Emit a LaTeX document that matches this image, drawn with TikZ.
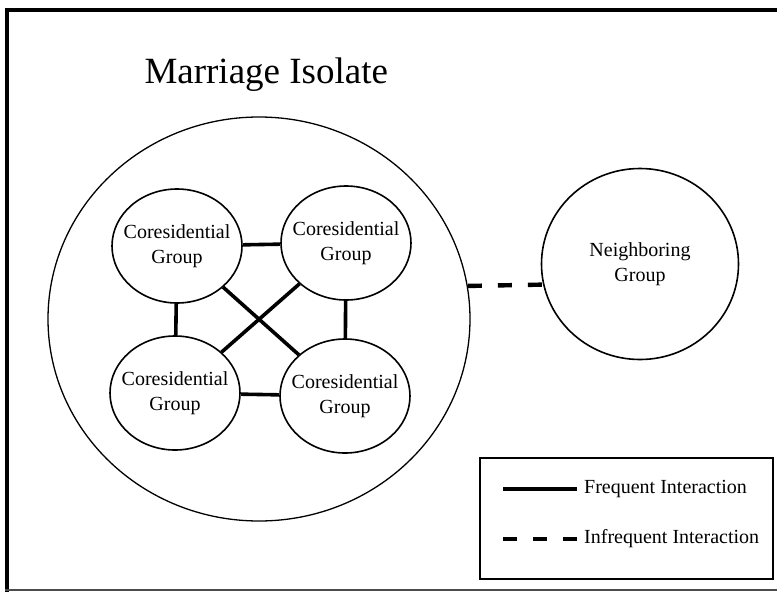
\documentclass[tikz,border=0pt]{standalone}
\usepackage{fontspec}
\setmainfont{Liberation Serif}
\usetikzlibrary{shapes,positioning}

\tikzset{
  group/.style={draw, ellipse, line width=1.6pt, inner sep=0pt, inner xsep=-9pt, align=center,
    minimum width=130pt, minimum height=114pt, font=\fontsize{20}{25}\selectfont},
  frequent/.style={line width=3.6pt},
  infrequent/.style={line width=4.4pt, dash pattern=on 14pt off 16pt},
  legendtext/.style={anchor=west, inner sep=0pt, font=\fontsize{20}{22}\selectfont},
}

\begin{document}
\begin{tikzpicture}[x=1pt,y=-1pt]
\useasboundingbox (0,0) rectangle (777,592);
% frame
\draw[line width=4pt] (7,592)--(7,10)--(777,10);
\draw[line width=1.5pt, black!70] (5,590)--(777,590);
% title
\node[anchor=west, font=\fontsize{37}{40}\selectfont] (title) at (141,75) {Marriage Isolate};
% marriage isolate
\node[draw, ellipse, line width=1.3pt, minimum width=422pt, minimum height=404pt] (isolate) at (259,319) {};
\node[group] (tl) at (177,246) {Coresidential\\Group};
\node[group] (tr) at (346,243) {Coresidential\\Group};
\node[group] (bl) at (175,393) {Coresidential\\Group};
\node[group] (br) at (345,396) {Coresidential\\Group};
\draw[frequent] (tl)--(tr);
\draw[frequent] (bl)--(br);
\draw[frequent] (tl)--(bl);
\draw[frequent] (tr)--(br);
\draw[frequent] (tl)--(br);
\draw[frequent] (tr)--(bl);
% neighbor
\node[group, inner xsep=0pt, minimum width=197pt, minimum height=191pt] (neigh) at (640,264) {Neighboring\\Group};
\draw[infrequent] (isolate.9)--(neigh.192);
% legend
\node[draw, line width=1.4pt, minimum width=293pt, minimum height=121pt, inner sep=0pt] (legend) at (626.5,518.5) {};
\coordinate (fa) at (503,489);
\coordinate (fb) at (577,489);
\coordinate (ia) at (503,539);
\coordinate (ib) at (577,539);
\draw[frequent] (fa)--(fb);
\draw[infrequent] (ia)--(ib);
\node[legendtext] (freq) at (584,489) {Frequent Interaction};
\node[legendtext] (infreq) at (584,539) {Infrequent Interaction};
\end{tikzpicture}
\end{document}
